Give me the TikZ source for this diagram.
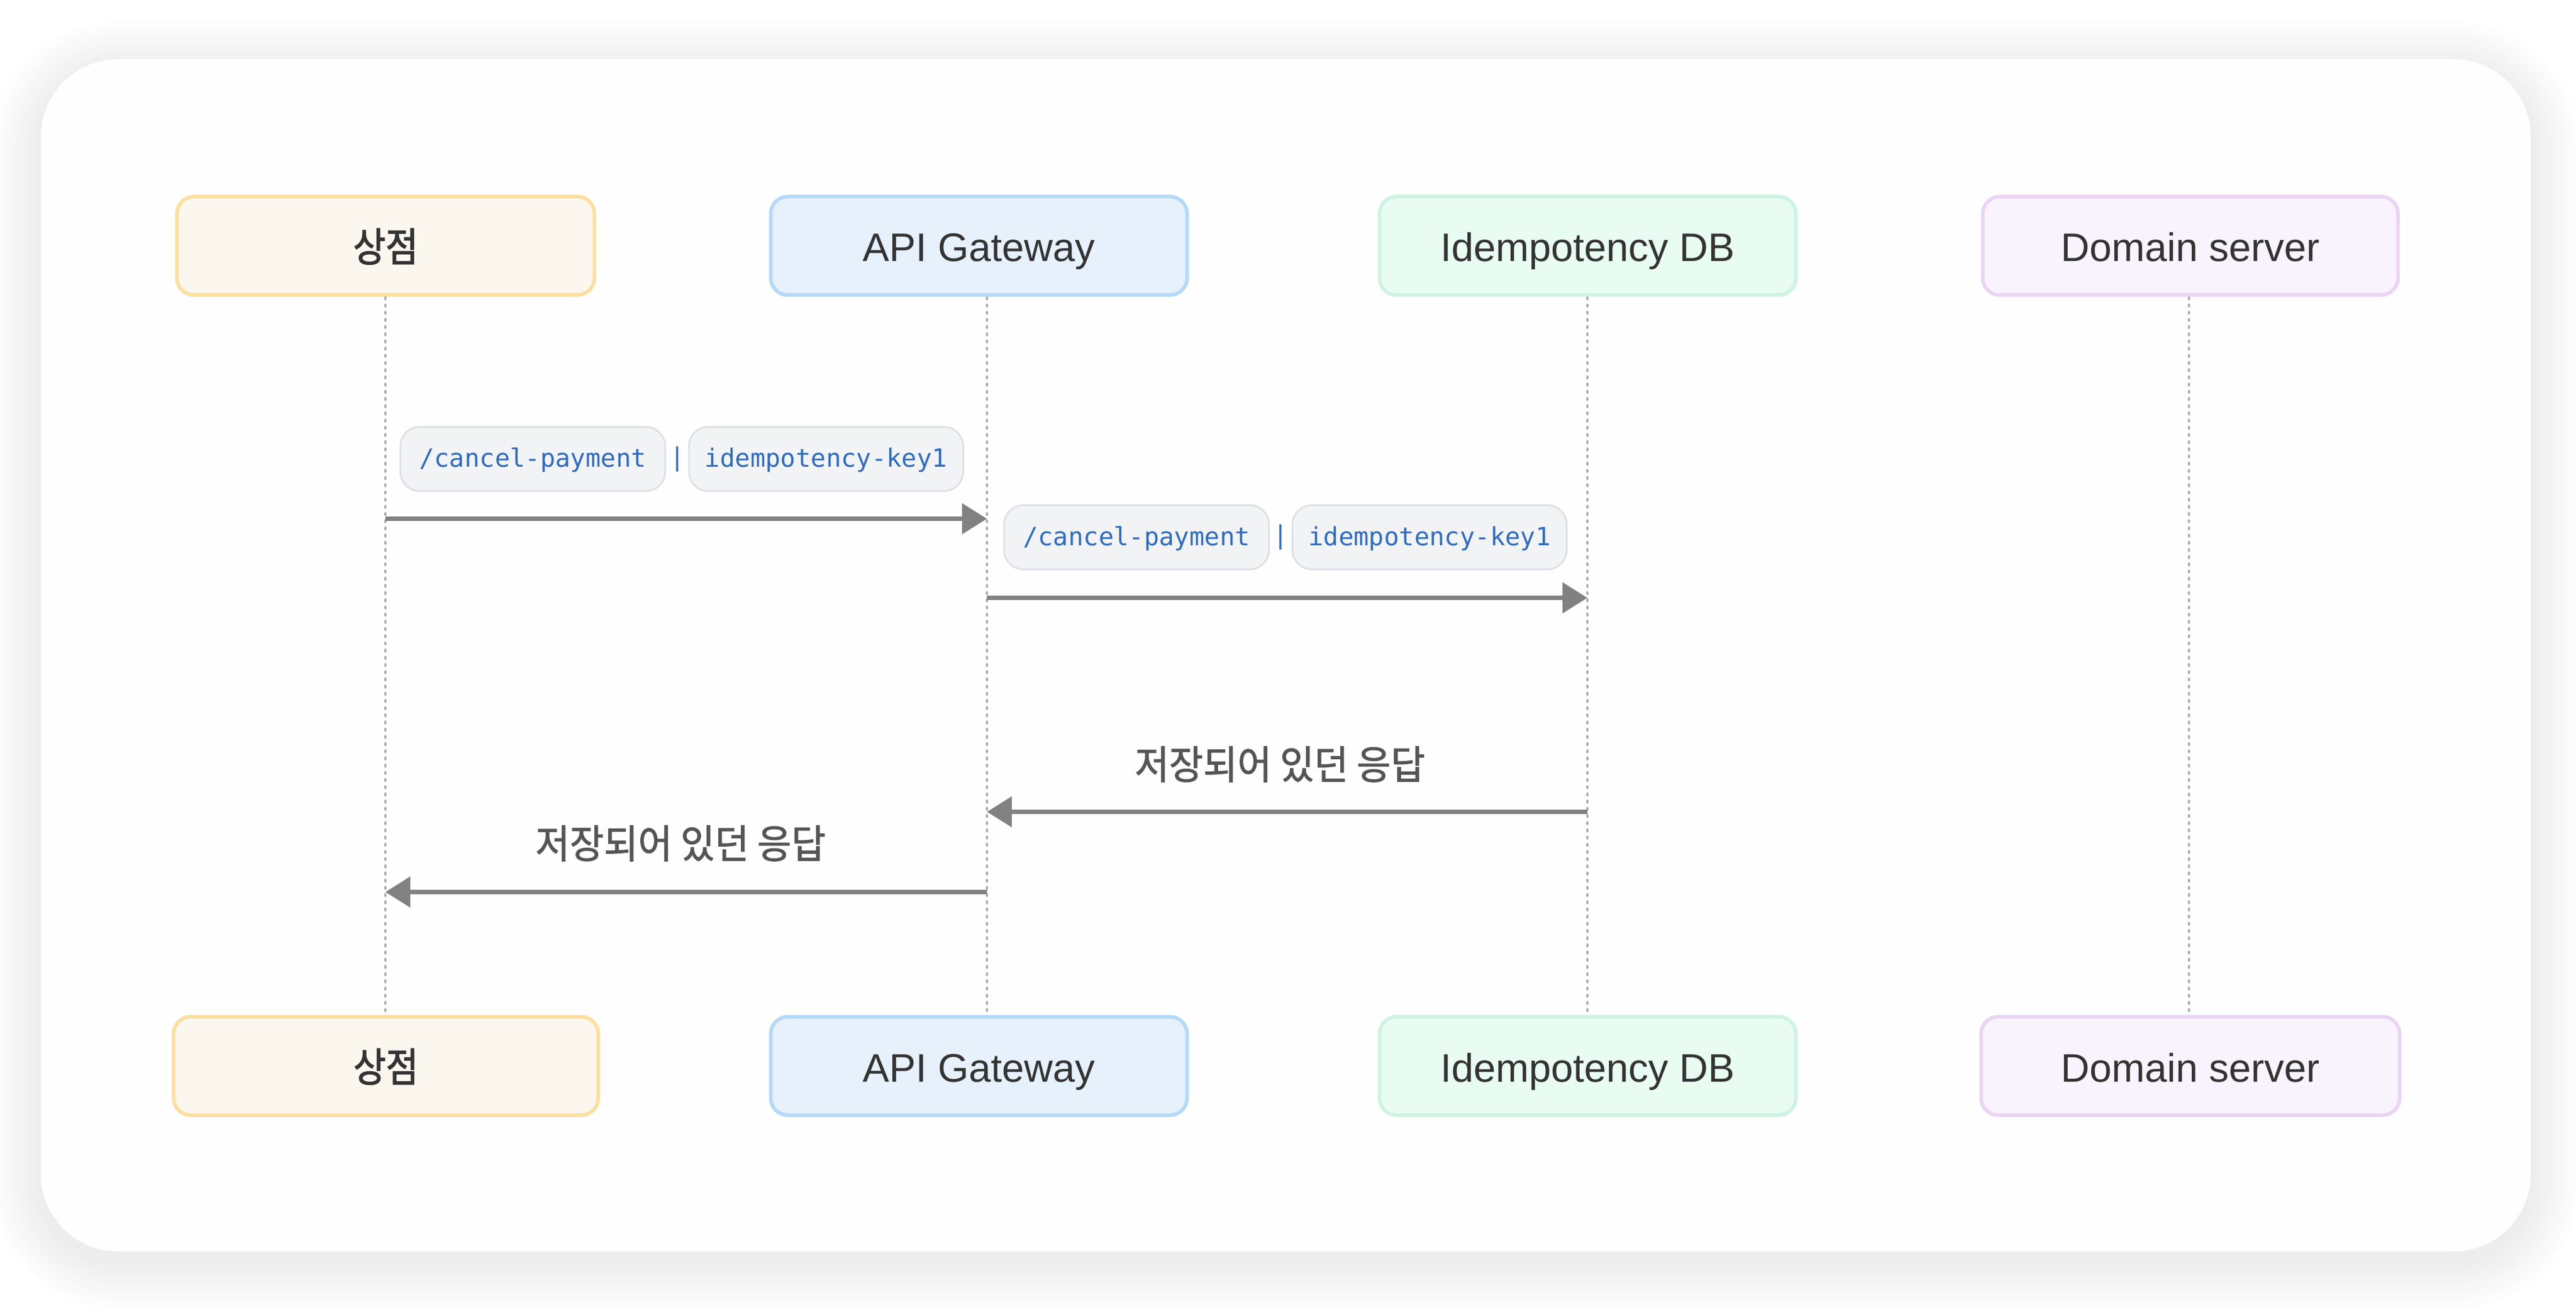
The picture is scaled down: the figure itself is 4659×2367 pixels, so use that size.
\documentclass[tikz,border=0pt]{standalone}
\usepackage{fontspec}
\setmainfont{Liberation Sans}
\newfontfamily\krfont[FakeStretch=0.88,FakeBold=2]{Noto Sans CJK KR}
\newfontfamily\krretfont[FakeStretch=0.94,FakeBold=1.5]{Noto Sans CJK KR}
\newfontfamily\monofont{DejaVu Sans Mono}
\usetikzlibrary{arrows.meta}
\definecolor{sfill}{HTML}{FBF7EF}
\definecolor{sline}{HTML}{FCDFA0}
\definecolor{gfill}{HTML}{E6F1FC}
\definecolor{gline}{HTML}{B5D9F6}
\definecolor{dfill}{HTML}{E8FCF2}
\definecolor{dline}{HTML}{CFF3E2}
\definecolor{mfill}{HTML}{F8F3FC}
\definecolor{mline}{HTML}{EAD4F4}
\definecolor{txt}{HTML}{333333}
\definecolor{rettxt}{HTML}{555555}
\definecolor{arrowgray}{HTML}{818181}
\definecolor{lifegray}{HTML}{ABABAB}
\definecolor{chipfill}{HTML}{F2F3F5}
\definecolor{chipline}{HTML}{DCDFE3}
\definecolor{codeblue}{HTML}{2F6CC0}
\definecolor{cardfill}{HTML}{FEFEFE}
\begin{document}
\begin{tikzpicture}[x=0.2pt,y=-0.2pt,
  actor/.style={draw, line width=1.3pt, rounded corners=6.2pt, minimum height=35.6pt,
    minimum width=150.6pt, inner sep=0pt, text=txt,
    font=\fontsize{14.4}{16}\selectfont, text height=11.4pt, text depth=0pt},
  kactor/.style={actor, font=\krfont\fontsize{14.5}{16}\selectfont},
  chip/.style={draw=chipline, fill=chipfill, line width=0.6pt, rounded corners=7pt,
    minimum height=23.2pt, inner sep=0pt, text=codeblue,
    font=\monofont\fontsize{9.1}{11}\selectfont, text height=6pt, text depth=0pt},
  sepbar/.style={inner sep=0pt, text=codeblue, font=\monofont\fontsize{9.1}{11}\selectfont},
  lifeline/.style={draw=lifegray, line width=0.8pt, dash pattern=on 0.6pt off 2pt, line cap=round},
  msg/.style={draw=arrowgray, line width=1.6pt, -{Triangle[length=9pt,width=10.8pt]}},
  rettext/.style={inner sep=0pt, text=rettxt, font=\krretfont\fontsize{14.3}{16}\selectfont}
]
\useasboundingbox (0,0) rectangle (4659,2367);
\fill[white] (0,0) rectangle (4659,2367);
% shadow
\foreach \i in {1,...,18}{
  \pgfmathsetmacro{\d}{5*\i}
  \pgfmathsetmacro{\r}{(140+\d)*0.2}
  \fill[black, fill opacity=0.0028, rounded corners=\r pt] (74-\d,107-\d+18) rectangle (4577+\d,2263+\d+18);
}
% card
\fill[cardfill, rounded corners=28pt] (74,107) rectangle (4577,2263);

% actors top
\node[kactor, draw=sline, fill=sfill, minimum width=151pt] (sT) at (697.5,444.5) {상점};
\node[actor, draw=gline, fill=gfill] (gT) at (1770.5,444.5) {API Gateway};
\node[actor, draw=dline, fill=dfill] (dT) at (2871.5,444.5) {Idempotency DB};
\node[actor, draw=mline, fill=mfill, minimum width=150.2pt] (mT) at (3961.5,444.5) {Domain server};
% actors bottom
\node[kactor, draw=sline, fill=sfill, minimum width=153.6pt] (sB) at (698,1927.5) {상점};
\node[actor, draw=gline, fill=gfill] (gB) at (1770.5,1927.5) {API Gateway};
\node[actor, draw=dline, fill=dfill] (dB) at (2871.5,1927.5) {Idempotency DB};
\node[actor, draw=mline, fill=mfill, minimum width=151.4pt] (mB) at (3961.5,1927.5) {Domain server};

% lifeline anchors
\coordinate (sL1) at (697,538);
\coordinate (sL2) at (697,1832);
\coordinate (gL1) at (1785,538);
\coordinate (gL2) at (1785,1832);
\coordinate (dL1) at (2871,538);
\coordinate (dL2) at (2871,1832);
\coordinate (mL1) at (3959,538);
\coordinate (mL2) at (3959,1832);
\draw[lifeline] (sL1) -- (sL2);
\draw[lifeline] (gL1) -- (gL2);
\draw[lifeline] (dL1) -- (dL2);
\draw[lifeline] (mL1) -- (mL2);

% message points
\coordinate (m1a) at (697,938);
\coordinate (m1b) at (1785,938);
\coordinate (m2a) at (1785,1081);
\coordinate (m2b) at (2871,1081);
\coordinate (m3a) at (2871,1468);
\coordinate (m3b) at (1785,1468);
\coordinate (m4a) at (1785,1613);
\coordinate (m4b) at (697,1613);

% chips row 1
\node[chip, minimum width=95.8pt] (c1a) at (963.5,830) {/cancel-payment};
\node[sepbar] (sep1) at (1225,830) {|};
\node[chip, minimum width=99.2pt] (c1b) at (1494,830) {idempotency-key1};
% chips row 2
\node[chip, minimum width=95.8pt] (c2a) at (2055.5,971.5) {/cancel-payment};
\node[sepbar] (sep2) at (2316,971.5) {|};
\node[chip, minimum width=99.2pt] (c2b) at (2585.5,971.5) {idempotency-key1};

% messages
\draw[msg] (m1a) -- (m1b);
\draw[msg] (m2a) -- (m2b);
\draw[msg] (m3a) -- (m3b);
\draw[msg] (m4a) -- (m4b);

% return labels
\node[rettext] (r1) at (2315,1382) {저장되어 있던 응답};
\node[rettext] (r2) at (1231,1525) {저장되어 있던 응답};
\end{tikzpicture}
\end{document}
